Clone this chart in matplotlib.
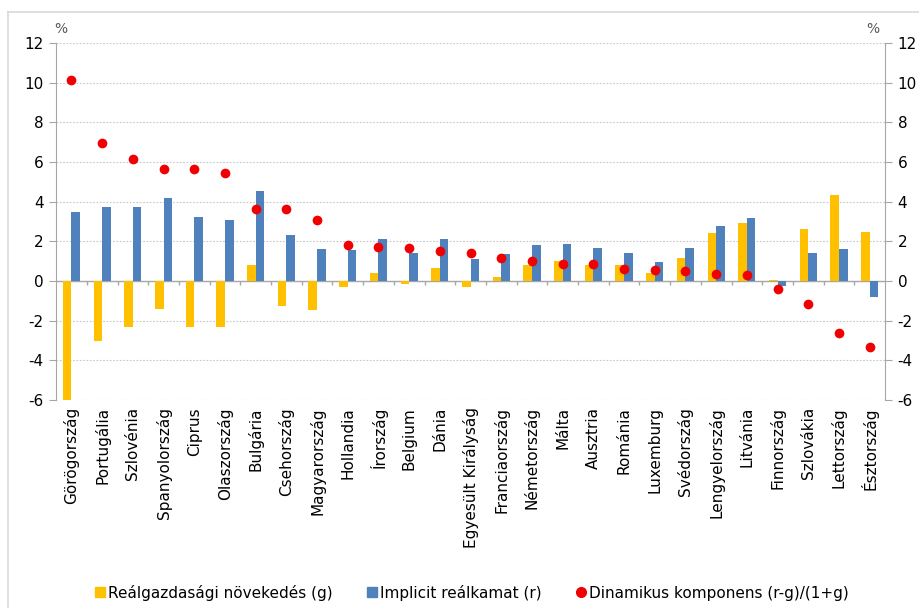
import matplotlib
matplotlib.use("Agg")
import matplotlib.pyplot as plt
from matplotlib.lines import Line2D
import numpy as np

plt.rcParams["axes.unicode_minus"] = False

# Countries and the three series (percent)
countries = ["Görögország", "Portugália", "Szlovénia", "Spanyolország", "Ciprus",
             "Olaszország", "Bulgária", "Csehország", "Magyarország", "Hollandia",
             "Írország", "Belgium", "Dánia", "Egyesült Királyság", "Franciaország",
             "Németország", "Málta", "Ausztria", "Románia", "Luxemburg",
             "Svédország", "Lengyelország", "Litvánia", "Finnország", "Szlovákia",
             "Lettország", "Észtország"]
growth_g = [-6.2, -3.0, -2.3, -1.4, -2.3, -2.3, 0.82, -1.26, -1.46, -0.29,
            0.40, -0.17, 0.64, -0.29, 0.22, 0.82, 1.01, 0.82, 0.82, 0.42,
            1.14, 2.44, 2.94, 0.08, 2.62, 4.34, 2.50]
rate_r = [3.50, 3.76, 3.76, 4.18, 3.23, 3.08, 4.52, 2.35, 1.60, 1.55,
          2.12, 1.43, 2.12, 1.13, 1.39, 1.82, 1.88, 1.66, 1.43, 0.97,
          1.66, 2.77, 3.18, -0.27, 1.43, 1.60, -0.82]
dynamic = [10.12, 6.96, 6.18, 5.66, 5.65, 5.46, 3.66, 3.66, 3.09, 1.83,
           1.70, 1.65, 1.50, 1.41, 1.14, 0.99, 0.84, 0.84, 0.62, 0.54,
           0.50, 0.35, 0.29, -0.42, -1.14, -2.64, -3.30]

legend_labels = ["Reálgazdasági növekedés (g)", "Implicit reálkamat (r)",
                 "Dinamikus komponens (r-g)/(1+g)"]

yellow = "#FFC000"
blue = "#4F81BD"
red = "#F00000"
axis_gray = "#A6A6A6"

fig = plt.figure(figsize=(9.2, 6.08), dpi=100)
ax = fig.add_axes([0.061, 0.342, 0.901, 0.587])

x = np.arange(len(countries))
w = 0.28
ax.bar(x - w / 2, growth_g, width=w, color=yellow, zorder=3)
ax.bar(x + w / 2, rate_r, width=w, color=blue, zorder=3)
ax.plot(x, dynamic, "o", color=red, markersize=7, markeredgewidth=0, zorder=4)

ax.set_xlim(-0.5, len(countries) - 0.5)
ax.set_ylim(-6, 12)
yt = np.arange(-6, 13, 2)
ax.set_yticks(yt)
for v in yt:
    if v != 0:
        ax.axhline(v, color="#C8C8C8", linestyle=(0, (1.5, 1.5)), linewidth=0.8, zorder=1)
ax.axhline(0, color=axis_gray, linewidth=1, zorder=2)
# small tick marks below the zero line between categories
ax.vlines(np.arange(0.5, len(countries) - 1, 1), -0.22, 0, color=axis_gray,
          linewidth=1, zorder=2)

ax.set_xticks(x)
ax.set_xticklabels(countries, rotation=90, fontsize=11)
ax.tick_params(axis="x", length=0, pad=5)
ax.tick_params(axis="y", direction="out", length=5, color=axis_gray,
               labelsize=11, pad=4)

for s in ["top", "bottom", "right"]:
    ax.spines[s].set_visible(False)
ax.spines["left"].set_color(axis_gray)

ax2 = ax.twinx()
ax2.set_ylim(-6, 12)
ax2.set_yticks(yt)
ax2.tick_params(axis="y", direction="out", length=5, color=axis_gray,
                labelsize=11, pad=4)
for s in ["top", "bottom", "left"]:
    ax2.spines[s].set_visible(False)
ax2.spines["right"].set_color(axis_gray)

fig.text(0.066, 0.953, "%", fontsize=10, color="#595959", ha="center", va="center")
fig.text(0.949, 0.953, "%", fontsize=10, color="#595959", ha="center", va="center")

# outer frame (top and left edge)
fig.add_artist(Line2D([0.009, 1.0], [0.980, 0.980], color="#D9D9D9", linewidth=1.2,
                      transform=fig.transFigure))
fig.add_artist(Line2D([0.009, 0.009], [0.0, 0.980], color="#D9D9D9", linewidth=1.2,
                      transform=fig.transFigure))

handles = [
    Line2D([], [], marker="s", linestyle="none", color=yellow, markersize=7),
    Line2D([], [], marker="s", linestyle="none", color=blue, markersize=7),
    Line2D([], [], marker="o", linestyle="none", color=red, markersize=7),
]
fig.legend(handles, legend_labels, loc="center", bbox_to_anchor=(0.513, 0.025),
           ncol=3, frameon=False, fontsize=11, handlelength=0.6,
           handletextpad=0.2, columnspacing=2.3)

fig.savefig("out.png", dpi=100)
